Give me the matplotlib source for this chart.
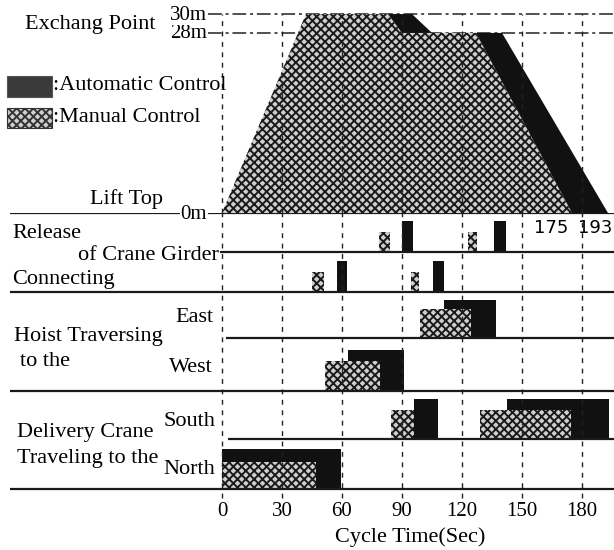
import numpy as np
import matplotlib
matplotlib.use("Agg")
import matplotlib.pyplot as plt
from matplotlib.patches import Rectangle

plt.rcParams['font.family'] = ['Liberation Serif', 'DejaVu Serif']
plt.rcParams['hatch.linewidth'] = 1.4

# lift profile (time in sec, height in m)
manual_t = [0, 42, 83, 90, 127, 175]
manual_h = [0, 30, 30, 28, 28, 0]
auto_t = [0, 48, 95, 105, 140, 193]
auto_h = [0, 30, 30, 28, 28, 0]
height_ticks = [0, 28, 30]
height_labels = ["0m", "28m", "30m"]

# activity bars: start / end times (sec)
release_man_start = [78.5, 123]
release_man_end = [84, 127.5]
release_auto_start = [90, 136]
release_auto_end = [95.5, 142]
connect_man_start = [45, 94.5]
connect_man_end = [51, 98.5]
connect_auto_start = [57.5, 105.5]
connect_auto_end = [62.5, 111]
east_man_start = [99]
east_man_end = [124.5]
east_auto_start = [111]
east_auto_end = [137]
west_man_start = [51.5]
west_man_end = [79]
west_auto_start = [63]
west_auto_end = [91]
south_man_start = [84.5, 129]
south_man_end = [96, 174.5]
south_auto_start = [96, 142.5]
south_auto_end = [108, 193.5]
north_man_start = [0]
north_man_end = [47]
north_auto_start = [0]
north_auto_end = [59.5]

time_ticks = [0, 30, 60, 90, 120, 150, 180]

W, H = 614, 550
fig = plt.figure(figsize=(W / 100, H / 100), dpi=100)

def ft(x, y, s, **kw):
    kw.setdefault('fontsize', 16)
    kw.setdefault('va', 'center')
    return fig.text(x / W, 1 - y / H, s, **kw)

XL = (-111, (W - 222) / 2)
MAN = dict(facecolor='#cfcfcf', edgecolor='#1a1a1a', hatch='xxxx', linewidth=0)
AUTO = dict(facecolor='#111111', edgecolor='#111111', linewidth=0)
dash = (0, (3.5, 4))

# ---------- top panel: lift profile ----------
k = 1.47
def fwd(y):
    y = np.asarray(y, dtype=float)
    return np.where(y <= 28, y, 28 + (y - 28) * k)
def inv(v):
    v = np.asarray(v, dtype=float)
    return np.where(v <= 28, v, 28 + (v - 28) / k)

top = fig.add_axes([0, 1 - 213 / H, 1, 213 / H])
top.set_yscale('function', functions=(fwd, inv))
top.set_xlim(*XL)
top.set_ylim(0, 28 + (213 / 6.43 - 28) / k)
top.axis('off')

top.fill(auto_t, auto_h, zorder=2, **AUTO)
top.fill(manual_t, manual_h, zorder=3, **MAN)
top.hlines([30, 28], -7, XL[1], colors='#222222', linewidth=1.1,
           linestyles=[(0, (9, 2.5, 2, 2.5))], zorder=1)
top.vlines(time_ticks, 0, 30, colors='#222222', linewidth=1.0,
           linestyles=[dash], zorder=4)

# ---------- lower panel: activities ----------
low = fig.add_axes([0, 0, 1, 1 - 213 / H])
low.set_xlim(*XL)
low.set_ylim(0, 337)
low.axis('off')

def u(py):
    return 550 - py

def bars(starts, ends, base, height, style, z):
    spans = [(s, e - s) for s, e in zip(starts, ends)]
    low.broken_barh(spans, (u(base), height), zorder=z, **style)

bars(release_auto_start, release_auto_end, 252, 31, AUTO, 2)
bars(release_man_start, release_man_end, 252, 20, MAN, 3)
bars(connect_auto_start, connect_auto_end, 292, 31, AUTO, 2)
bars(connect_man_start, connect_man_end, 292, 20, MAN, 3)
bars(east_auto_start, east_auto_end, 338, 38, AUTO, 2)
bars(east_man_start, east_man_end, 338, 29, MAN, 3)
bars(west_auto_start, west_auto_end, 391, 41, AUTO, 2)
bars(west_man_start, west_man_end, 391, 30, MAN, 3)
bars(south_auto_start, south_auto_end, 439, 40, AUTO, 2)
bars(south_man_start, south_man_end, 439, 29, MAN, 3)
bars(north_auto_start, north_auto_end, 489, 40, AUTO, 2)
bars(north_man_start, north_man_end, 489, 27, MAN, 3)

# separator lines
lw = 1.6
low.hlines(u(213) - 0.5, -106, XL[1], colors='#1a1a1a', linewidth=lw, zorder=5)
low.hlines(u(252), -1, XL[1], colors='#1a1a1a', linewidth=lw, zorder=5)
low.hlines(u(292), -106, XL[1], colors='#1a1a1a', linewidth=lw, zorder=5)
low.hlines(u(338), 2, XL[1], colors='#1a1a1a', linewidth=lw, zorder=5)
low.hlines(u(391), -106, XL[1], colors='#1a1a1a', linewidth=lw, zorder=5)
low.hlines(u(439), 3, XL[1], colors='#1a1a1a', linewidth=lw, zorder=5)
low.hlines(u(489), -106, XL[1], colors='#1a1a1a', linewidth=lw, zorder=5)
low.vlines(time_ticks, u(498), u(213), colors='#222222', linewidth=1.0,
           linestyles=[dash], zorder=4)

for t in time_ticks:
    low.text(t, u(512), str(t), ha='center', va='center', fontsize=15)
ft(410, 537, "Cycle Time(Sec)", ha='center')

# ---------- labels ----------
ft(25, 25, "Exchang Point")
for v, lab in zip(height_ticks, height_labels):
    ypx = 213 - fwd(v) * 6.43
    ft(207, ypx + 1, lab, ha='right', fontsize=15,
       bbox=dict(facecolor='white', edgecolor='none', pad=0.5))
fig.add_artist(Rectangle((7 / W, 1 - 97 / H), 45 / W, 21 / H, transform=fig.transFigure,
                         facecolor='#3a3a3a', edgecolor='#555555', linewidth=0.8))
fig.add_artist(Rectangle((7 / W, 1 - 128 / H), 45 / W, 20 / H, transform=fig.transFigure,
                         facecolor='#cfcfcf', edgecolor='#333333', hatch='xxxx', linewidth=0.8))
ft(53, 86, ":Automatic Control")
ft(53, 118, ":Manual Control")
ft(90, 199, "Lift Top")
ft(551, 228, "175", ha='center', fontsize=13, family='DejaVu Sans')
ft(595, 228, "193", ha='center', fontsize=13, family='DejaVu Sans')

ft(12, 233, "Release")
ft(78, 255, "of Crane Girder")
ft(12, 280, "Connecting")
ft(213, 318, "East", ha='right')
ft(14, 337, "Hoist Traversing")
ft(20, 362, "to the")
ft(213, 368, "West", ha='right')
ft(215, 421, "South", ha='right')
ft(17, 433, "Delivery Crane")
ft(17, 458, "Traveling to the")
ft(215, 470, "North", ha='right')

fig.savefig("out.png", dpi=100, facecolor='white')
